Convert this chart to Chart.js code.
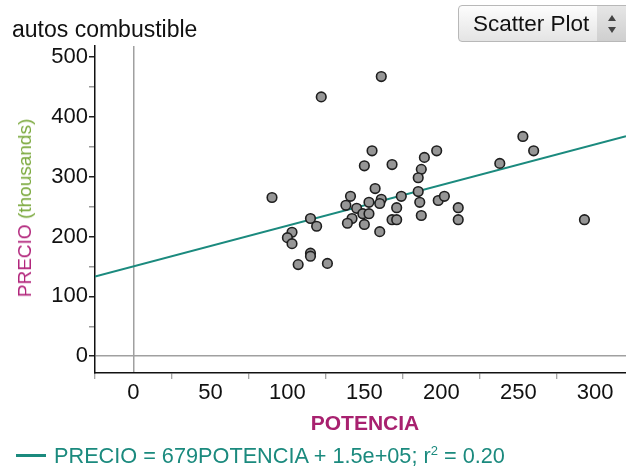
<!DOCTYPE html>
<html>
<head>
<meta charset="utf-8">
<script src="https://cdn.jsdelivr.net/npm/chart.js@4/dist/chart.umd.min.js"></script>
<style>
  html, body { margin: 0; padding: 0; background: #fff; }
  #wrap { position: relative; width: 626px; height: 468px; overflow: hidden; font-family: "Liberation Sans", Arial, sans-serif; }
  #c { position: absolute; left: 0; top: 0; }
  .t { position: absolute; white-space: nowrap; }
  #title { left: 12px; top: 16px; font-size: 23px; color: #111; }
  #btn { left: 458px; top: 5px; width: 172px; height: 37px; box-sizing: border-box; border: 1px solid #b8b8b8; border-radius: 4px;
         background: linear-gradient(#fdfdfd, #e4e4e4); }
  #btn span.lab { position: absolute; left: 14px; top: 5px; font-size: 22.5px; color: #111; }
  #btn .arr { position: absolute; left: 138px; top: 0; width: 32px; height: 35px; background: linear-gradient(#e6e6e6, #cfcfcf); }
  #ytitle { left: 25px; top: 208px; font-size: 19px; transform: translate(-50%, -50%) rotate(-90deg); transform-origin: center; }
  #xtitle { left: 365px; top: 423px; font-size: 21px; font-weight: bold; color: #a8216f; transform: translate(-50%, -50%); }
  #leg { left: 16px; top: 443px; font-size: 21.7px; color: #1b8a7e; }
  #leg .ln { display: inline-block; width: 30px; height: 3px; background: #1b8a7e; vertical-align: middle; margin-right: 8px; position: relative; top: -2px; }
</style>
</head>
<body>
<div id="wrap">
  <canvas id="c" width="626" height="468"></canvas>
  <div class="t" id="title">autos combustible</div>
  <div class="t" id="btn"><span class="lab">Scatter Plot</span><div class="arr">
    <svg width="30" height="35" viewBox="0 0 30 35"><polygon points="11,15 19,15 15,9" fill="#444"/><polygon points="11,21 19,21 15,27" fill="#444"/></svg>
  </div></div>
  <div class="t" id="ytitle"><span style="color:#b2267c">PRECIO</span> <span style="color:#7aa83c">(thousands)</span></div>
  <div class="t" id="xtitle">POTENCIA</div>
  <div class="t" id="leg"><span class="ln"></span>PRECIO = 679POTENCIA + 1.5e+05; r<sup style="font-size:13px">2</sup> = 0.20</div>
</div>
<script>
// POTENCIA (x) and PRECIO in thousands (y)
const potencia = [90, 122, 161, 155, 150, 168, 197, 189, 187, 185, 185, 157, 141, 138, 153, 161, 160, 174, 186, 187,
                  171, 168, 171, 160, 145, 149, 153, 150, 142, 139, 115, 119, 103, 100, 103, 115, 115, 107, 126, 198,
                  202, 211, 211, 253, 260, 238, 293];
const precio   = [265, 433, 467, 343, 318, 320, 343, 332, 312, 298, 275, 280, 267, 252, 257, 262, 255, 267, 257, 235,
                  248, 228, 228, 208, 247, 238, 238, 220, 230, 222, 230, 217, 207, 198, 188, 172, 167, 153, 155, 260,
                  267, 248, 228, 367, 343, 322, 228];
// Regression shown in the legend (PRECIO in thousands)
const slope = 0.679;
const intercept = 150;
const lineX = [-25, 320];
const xTickValues = [-25, 0, 25, 50, 75, 100, 125, 150, 175, 200, 225, 250, 275, 300];
const yTickValues = [0, 50, 100, 150, 200, 250, 300, 350, 400, 450, 500];

const pts = potencia.map((x, i) => ({ x: x, y: precio[i] }));
const linePts = lineX.map(x => ({ x: x, y: slope * x + intercept }));

new Chart(document.getElementById('c'), {
  type: 'scatter',
  data: {
    datasets: [
      { type: 'line', data: linePts, borderColor: '#1b8a7e', borderWidth: 2, pointRadius: 0, fill: false, order: 2 },
      { data: pts, backgroundColor: '#969696', borderColor: '#1e1e1e', borderWidth: 1.6, pointRadius: 4.8, order: 1 }
    ]
  },
  options: {
    responsive: false,
    animation: false,
    layout: { autoPadding: false, padding: { top: 46, right: 0, left: 0, bottom: 0 } },
    plugins: { legend: { display: false }, tooltip: { enabled: false } },
    scales: {
      x: {
        type: 'linear', min: -25, max: 320,
        afterFit: s => { s.height = 95; s.paddingRight = 0; s.paddingLeft = 0; },
        afterBuildTicks: s => { s.ticks = xTickValues.map(v => ({ value: v })); },
        border: { color: '#111', width: 1.5 },
        grid: {
          color: c => (c.tick && c.tick.value === 0) ? '#a0a0a0' : 'rgba(0,0,0,0)',
          lineWidth: 1.5,
          drawTicks: true, tickLength: 6,
          tickColor: c => (c.tick && c.tick.value % 50 === 0) ? 'rgba(0,0,0,0)' : '#888',
          tickWidth: 1
        },
        ticks: {
          color: '#111', font: { family: 'Liberation Sans', size: 22 }, padding: 1,
          maxRotation: 0, autoSkip: false,
          callback: v => (v % 50 === 0) ? String(v) : ''
        }
      },
      y: {
        type: 'linear', min: -28, max: 518,
        afterFit: s => { s.width = 95; s.paddingTop = 0; s.paddingBottom = 0; },
        afterBuildTicks: s => { s.ticks = yTickValues.map(v => ({ value: v })); },
        border: { color: '#111', width: 1.5 },
        grid: {
          color: c => (c.tick && c.tick.value === 0) ? '#a0a0a0' : 'rgba(0,0,0,0)',
          lineWidth: 1.5,
          drawTicks: true, tickLength: 6,
          tickColor: c => (c.tick && c.tick.value % 100 === 0) ? '#222' : '#999',
          tickWidth: 1.5
        },
        ticks: {
          color: '#111', font: { family: 'Liberation Sans', size: 22 }, padding: 1,
          autoSkip: false,
          callback: v => (v % 100 === 0) ? String(v) : ''
        }
      }
    }
  }
});
</script>
</body>
</html>
